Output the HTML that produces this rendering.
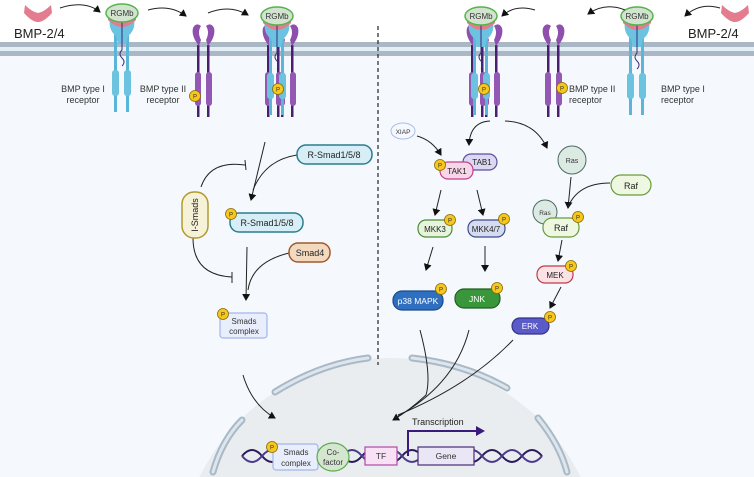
<!DOCTYPE html>
<html><head><style>
html,body{margin:0;padding:0;background:#fff;width:754px;height:477px;overflow:hidden}
svg{display:block;font-family:"Liberation Sans",sans-serif}
</style></head><body>
<svg width="754" height="477" viewBox="0 0 754 477" xmlns="http://www.w3.org/2000/svg">
<defs>
<marker id="ah" markerWidth="8" markerHeight="8" refX="6" refY="4" orient="auto" markerUnits="userSpaceOnUse"><path d="M0,0 L7,4 L0,8 Z" fill="#111"/></marker>
<g id="P"><circle r="5.5" fill="#f6c81e" stroke="#8a6a00" stroke-width="0.8"/><text y="2.5" font-size="6" text-anchor="middle" fill="#333">P</text></g>
<g id="bmp"><path d="M-13,-7 Q-6,0 0,1 Q6,0 13,-7 L14,1 Q6,10 0,10 Q-6,10 -14,1 Z" fill="#e27c8e"/></g>
<g id="r1">
 <rect x="-8" y="30" width="3" height="82" fill="#5ab5d8"/><rect x="4" y="30" width="3" height="82" fill="#5ab5d8"/>
 <rect x="-10" y="70" width="7" height="26" rx="3" fill="#6cc3e0"/><rect x="2" y="70" width="7" height="26" rx="3" fill="#6cc3e0"/>
 <path d="M-12,18 Q-14,30 -6,36 L-4,44 L0,44 L0,22 Z M12,18 Q14,30 6,36 L4,44 L0,44 L0,22Z" fill="#6cc3e0"/>
 <path d="M-14,12 Q0,26 14,12 L14,20 Q0,34 -14,20 Z" fill="#e27c8e"/>
 <path d="M0,22 L0,50 q-4,4 0,8 q4,4 0,8" stroke="#3a2a80" fill="none" stroke-width="1"/>
 <ellipse cx="0" cy="13" rx="16" ry="9" fill="#d2e4cf" stroke="#55b44a" stroke-width="1.5"/>
 <text y="16" font-size="8" text-anchor="middle" fill="#333">RGMb</text>
</g>
<g id="r2">
 <rect x="-6" y="45" width="2.5" height="72" fill="#4a1f70"/><rect x="4" y="45" width="2.5" height="72" fill="#4a1f70"/>
 <rect x="-8" y="72" width="6" height="34" rx="3" fill="#9258b4"/><rect x="3" y="72" width="6" height="34" rx="3" fill="#9258b4"/>
 <path d="M-4,46 Q-12,36 -10,28 Q-7,22 -2,26 Q-6,32 -2,40 Z" fill="#8f4fae"/>
 <path d="M5,46 Q13,36 11,28 Q8,22 3,26 Q7,32 3,40 Z" fill="#8f4fae"/>
</g>
</defs>
<rect width="754" height="477" fill="#fff"/>
<rect y="46" width="754" height="431" fill="#f5f9fd"/>
<rect y="42" width="754" height="5" fill="#a9b8c4"/>
<rect y="47" width="754" height="4" fill="#e3eef7"/>
<rect y="51" width="754" height="5" fill="#a9b8c4"/>

<!-- nucleus -->
<path d="M199.5,477 A212,212 0 0 1 580.5,477 Z" fill="#eaedf0"/>
<g fill="none" stroke="#a9b9c6" stroke-width="7" stroke-linecap="round">
<path d="M213,472 Q222,440 242,420"/>
<path d="M275,392 Q320,364 368,358"/>
<path d="M412,358 Q465,364 507,388"/>
<path d="M538,418 Q560,445 567,472"/>
</g>
<g fill="none" stroke="#dde6ee" stroke-width="3" stroke-linecap="round">
<path d="M213,472 Q222,440 242,420"/>
<path d="M275,392 Q320,364 368,358"/>
<path d="M412,358 Q465,364 507,388"/>
<path d="M538,418 Q560,445 567,472"/>
</g>

<!-- receptors left -->
<use href="#bmp" x="38" y="12"/>
<text x="14" y="38" font-size="13" fill="#222">BMP-2/4</text>
<use href="#r1" x="122" y="0"/>
<use href="#r2" x="203" y="0"/>
<use href="#P" x="195" y="96"/>
<g transform="translate(280,0)"><use href="#r2" x="-7" y="0"/><use href="#r2" x="7" y="0"/><use href="#r1" x="-3" y="3"/></g>
<use href="#P" x="278" y="89"/>
<text font-size="9" fill="#333" text-anchor="middle"><tspan x="83" y="92">BMP type I</tspan><tspan x="83" y="103">receptor</tspan></text>
<text font-size="9" fill="#333" text-anchor="middle"><tspan x="163" y="92">BMP type II</tspan><tspan x="163" y="103">receptor</tspan></text>
<g fill="none" stroke="#222" stroke-width="1" marker-end="url(#ah)">
<path d="M60,8 Q85,0 100,12"/><path d="M148,10 Q170,4 186,16"/><path d="M208,13 Q230,4 248,15"/>
</g>

<!-- receptors right -->
<use href="#bmp" x="735" y="12"/>
<text x="688" y="38" font-size="13" fill="#222">BMP-2/4</text>
<use href="#r1" x="637" y="3"/>
<use href="#r2" x="553" y="0"/>
<use href="#P" x="562" y="88"/>
<g transform="translate(484,0)"><use href="#r2" x="-7" y="0"/><use href="#r2" x="7" y="0"/><use href="#r1" x="-3" y="3"/></g>
<use href="#P" x="484" y="89"/>
<text font-size="9" fill="#333"><tspan x="569" y="92">BMP type II</tspan><tspan x="569" y="103">receptor</tspan></text>
<text font-size="9" fill="#333"><tspan x="661" y="92">BMP type I</tspan><tspan x="661" y="103">receptor</tspan></text>
<g fill="none" stroke="#222" stroke-width="1" marker-end="url(#ah)">
<path d="M720,8 Q700,2 685,16"/><path d="M625,10 Q605,2 588,14"/><path d="M535,10 Q515,4 502,16"/>
</g>

<line x1="378" y1="26" x2="378" y2="365" stroke="#333" stroke-width="1.3" stroke-dasharray="4,3"/>

<!-- left pathway -->
<g fill="none" stroke="#222" stroke-width="1">
<path d="M265,142 L251,200" marker-end="url(#ah)"/>
<path d="M297,155 Q265,160 253,190"/>
<path d="M201,187 Q210,160 245,165"/><path d="M245,160 L246,170"/>
<path d="M193,238 Q193,275 232,277"/><path d="M232,272 L232,283"/>
<path d="M247,247 L246,300" marker-end="url(#ah)"/>
<path d="M289,253 Q252,262 248,290"/>
<path d="M243,375 Q252,405 275,418" marker-end="url(#ah)"/>
</g>
<rect x="297" y="145" width="75" height="19" rx="9" fill="#d8eef6" stroke="#2a7d8e" stroke-width="1.5"/>
<text x="334" y="158" font-size="9" text-anchor="middle" fill="#222">R-Smad1/5/8</text>
<rect x="182" y="192" width="26" height="46" rx="12" fill="#f6f2d8" stroke="#b39a2e" stroke-width="1.5"/>
<text transform="translate(198,215) rotate(-90)" font-size="9" text-anchor="middle" fill="#222">I-Smads</text>
<rect x="230" y="213" width="73" height="19" rx="9" fill="#d8eef6" stroke="#2a7d8e" stroke-width="1.5"/>
<text x="267" y="226" font-size="9" text-anchor="middle" fill="#222">R-Smad1/5/8</text>
<use href="#P" x="231" y="214"/>
<rect x="289" y="243" width="41" height="19" rx="9" fill="#f2d9c0" stroke="#a05a2c" stroke-width="1.5"/>
<text x="310" y="256" font-size="9" text-anchor="middle" fill="#222">Smad4</text>
<rect x="220" y="313" width="47" height="25" rx="3" fill="#e8eefb" stroke="#a4b6e8" stroke-width="1.2"/>
<text font-size="8" text-anchor="middle" fill="#333"><tspan x="244" y="324">Smads</tspan><tspan x="244" y="334">complex</tspan></text>
<use href="#P" x="223" y="314"/>

<!-- right pathway -->
<g fill="none" stroke="#222" stroke-width="1">
<path d="M490,121 Q470,122 469,145" marker-end="url(#ah)"/>
<path d="M505,121 Q535,122 547,148" marker-end="url(#ah)"/>
<path d="M417,136 Q432,140 441,155" marker-end="url(#ah)"/>
<path d="M441,190 L435,215" marker-end="url(#ah)"/>
<path d="M477,190 L483,215" marker-end="url(#ah)"/>
<path d="M433,247 L426,270" marker-end="url(#ah)"/>
<path d="M485,246 L485,271" marker-end="url(#ah)"/>
<path d="M571,177 L568,208" marker-end="url(#ah)"/>
<path d="M610,183 Q578,183 568,207"/>
<path d="M562,240 L558,261" marker-end="url(#ah)"/>
<path d="M561,287 L550,308" marker-end="url(#ah)"/>
<path d="M420,330 Q432,375 426,395 Q410,410 393,420" marker-end="url(#ah)"/>
<path d="M469,330 Q455,385 395,418"/>
<path d="M513,340 Q470,385 398,415"/>
</g>
<ellipse cx="403" cy="131" rx="12" ry="8" fill="#f5f8fe" stroke="#a8bde8" stroke-width="1"/>
<text x="403" y="134" font-size="6.5" text-anchor="middle" fill="#333">XIAP</text>
<rect x="463" y="154" width="34" height="16" rx="8" fill="#dcd8f2" stroke="#5a4f9e" stroke-width="1.2"/>
<text x="482" y="165" font-size="8" text-anchor="middle" fill="#222">TAB1</text>
<rect x="440" y="162" width="33" height="17" rx="8" fill="#f8d6ea" stroke="#c2408a" stroke-width="1.2"/>
<text x="457" y="174" font-size="8" text-anchor="middle" fill="#222">TAK1</text>
<use href="#P" x="440" y="165"/>
<rect x="418" y="220" width="34" height="17" rx="8" fill="#e6f4dc" stroke="#4e8a36" stroke-width="1.2"/>
<text x="435" y="232" font-size="8" text-anchor="middle" fill="#222">MKK3</text>
<use href="#P" x="450" y="220"/>
<rect x="468" y="220" width="37" height="17" rx="8" fill="#d6dcf0" stroke="#3d4a8a" stroke-width="1.2"/>
<text x="486" y="232" font-size="8" text-anchor="middle" fill="#222">MKK4/7</text>
<use href="#P" x="504" y="219"/>
<rect x="393" y="291" width="50" height="19" rx="9" fill="#2f6fc0" stroke="#1a4a8a" stroke-width="1.2"/>
<text x="418" y="304" font-size="8.5" text-anchor="middle" fill="#fff">p38 MAPK</text>
<use href="#P" x="441" y="289"/>
<rect x="455" y="289" width="45" height="19" rx="9" fill="#3a963a" stroke="#1f6020" stroke-width="1.2"/>
<text x="477" y="302" font-size="8.5" text-anchor="middle" fill="#fff">JNK</text>
<use href="#P" x="497" y="288"/>
<rect x="512" y="318" width="37" height="16" rx="8" fill="#5a5ac8" stroke="#33338a" stroke-width="1.2"/>
<text x="530" y="329" font-size="8" text-anchor="middle" fill="#fff">ERK</text>
<use href="#P" x="550" y="317"/>
<circle cx="572" cy="160" r="14" fill="#dceae4" stroke="#4f6b62" stroke-width="1"/>
<text x="572" y="163" font-size="7" text-anchor="middle" fill="#333">Ras</text>
<rect x="611" y="175" width="40" height="20" rx="10" fill="#eef7e0" stroke="#6a9a3a" stroke-width="1.2"/>
<text x="631" y="189" font-size="9" text-anchor="middle" fill="#222">Raf</text>
<circle cx="545" cy="212" r="12" fill="#dceae4" stroke="#4f6b62" stroke-width="1"/>
<text x="545" y="215" font-size="6.5" text-anchor="middle" fill="#333">Ras</text>
<rect x="543" y="218" width="36" height="19" rx="9" fill="#eef7e0" stroke="#6a9a3a" stroke-width="1.2"/>
<text x="561" y="231" font-size="9" text-anchor="middle" fill="#222">Raf</text>
<use href="#P" x="578" y="217"/>
<rect x="537" y="266" width="36" height="17" rx="8" fill="#fbe2e4" stroke="#c03a4a" stroke-width="1.2"/>
<text x="555" y="278" font-size="8" text-anchor="middle" fill="#222">MEK</text>
<use href="#P" x="571" y="266"/>

<!-- DNA -->
<g fill="none" stroke="#2a1a5a" stroke-width="2">
<path d="M242,456 q10,-12 20,0 q10,12 20,0 q10,-12 20,0 q10,12 20,0 q10,-12 20,0 q10,12 20,0 q10,-12 20,0 q10,12 20,0 q10,-12 20,0 q10,12 20,0 q10,-12 20,0 q10,12 20,0 q10,-12 20,0 q10,12 20,0 q10,-12 20,0"/>
<path d="M242,456 q10,12 20,0 q10,-12 20,0 q10,12 20,0 q10,-12 20,0 q10,12 20,0 q10,-12 20,0 q10,12 20,0 q10,-12 20,0 q10,12 20,0 q10,-12 20,0 q10,12 20,0 q10,-12 20,0 q10,12 20,0 q10,-12 20,0 q10,12 20,0" stroke="#4a3a8a"/>
</g>
<rect x="273" y="444" width="45" height="26" rx="3" fill="#e8eefb" stroke="#a4b6e8" stroke-width="1.2"/>
<text font-size="8" text-anchor="middle" fill="#333"><tspan x="296" y="455">Smads</tspan><tspan x="296" y="466">complex</tspan></text>
<use href="#P" x="272" y="447"/>
<ellipse cx="333" cy="457" rx="16" ry="14" fill="#d4e6d0" stroke="#5aaa4a" stroke-width="1.2"/>
<text font-size="8" text-anchor="middle" fill="#333"><tspan x="333" y="455">Co-</tspan><tspan x="333" y="465">factor</tspan></text>
<rect x="365" y="447" width="32" height="18" fill="#f8e0f5" stroke="#b04aa8" stroke-width="1.2"/>
<text x="381" y="459" font-size="8.5" text-anchor="middle" fill="#333">TF</text>
<rect x="418" y="447" width="56" height="18" fill="#ebe6f5" stroke="#4a2a7a" stroke-width="1.2"/>
<text x="446" y="459" font-size="8.5" text-anchor="middle" fill="#333">Gene</text>
<path d="M408,456 L408,431 L478,431" fill="none" stroke="#3a1a7a" stroke-width="2"/>
<path d="M476,426 L485,431 L476,436 Z" fill="#3a1a7a"/>
<text x="412" y="425" font-size="9" fill="#222">Transcription</text>
</svg>
</body></html>
